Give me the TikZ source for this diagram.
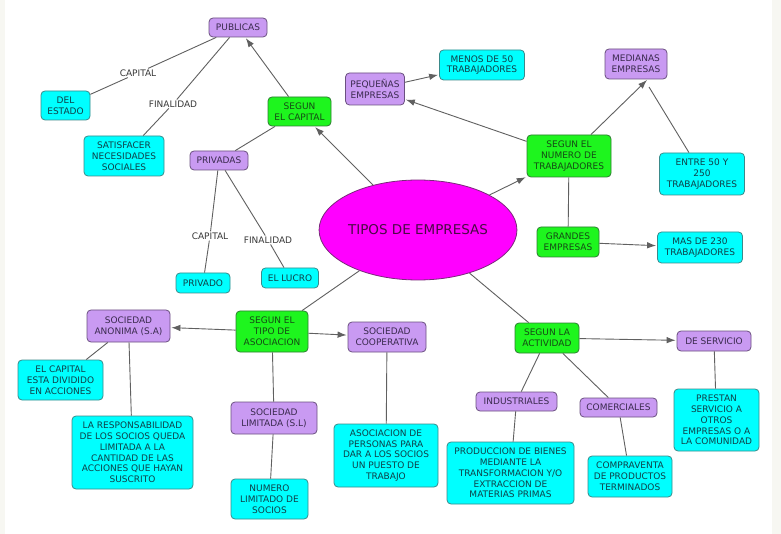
\documentclass[tikz,border=0pt]{standalone}
\usepackage{fontspec}
\setmainfont{DejaVu Sans}
\usetikzlibrary{arrows.meta,shapes.geometric}
\definecolor{cyfill}{HTML}{00FFFF}
\definecolor{cyline}{HTML}{3A8A8A}
\definecolor{cytext}{HTML}{0F4048}
\definecolor{pufill}{HTML}{C99AF2}
\definecolor{puline}{HTML}{6B5080}
\definecolor{putext}{HTML}{3A2A4E}
\definecolor{grfill}{HTML}{1EF51E}
\definecolor{grline}{HTML}{2E7D32}
\definecolor{grtext}{HTML}{154A15}
\definecolor{mgfill}{HTML}{FF00FF}
\definecolor{mgline}{HTML}{7A2A7A}
\definecolor{mgtext}{HTML}{4A0A45}
\definecolor{edge}{HTML}{606060}
\definecolor{strip}{HTML}{F7F7F2}
\tikzset{
  base/.style={rounded corners=4pt, draw, line width=0.8pt, align=center, inner sep=1pt,
    font=\fontsize{9}{10.8}\selectfont},
  cy/.style={base, fill=cyfill, draw=cyline, text=cytext},
  pu/.style={base, fill=pufill, draw=puline, text=putext},
  gr/.style={base, fill=grfill, draw=grline, text=grtext},
  lbl/.style={fill=white, inner sep=1pt, text=black!78, font=\fontsize{9}{10.8}\selectfont},
  ln/.style={draw=edge, line width=0.9pt},
  arr/.style={ln, -{Latex[length=9pt,width=6.5pt]}, shorten >=1pt},
}
\begin{document}
\begin{tikzpicture}[x=1pt,y=-1pt]
\useasboundingbox (0,0) rectangle (781,534);
\fill[white] (0,0) rectangle (781,534);
\fill[strip] (0,0) rectangle (5,534);
\fill[strip] (772,0) rectangle (781,534);

% nodes
\node[pu, minimum width=58pt, minimum height=19pt] (pub) at (238,27.5) {PUBLICAS};
\node[gr, minimum width=63pt, minimum height=29pt] (cap) at (299.5,111.5) {SEGUN\\EL CAPITAL};
\node[cy, minimum width=49pt, minimum height=29pt] (est) at (65.5,105.5) {DEL\\ESTADO};
\node[cy, minimum width=80pt, minimum height=40pt] (sat) at (124,156) {SATISFACER\\NECESIDADES\\SOCIALES};
\node[pu, minimum width=58pt, minimum height=19pt] (priv) at (219,160.5) {PRIVADAS};
\node[cy, minimum width=54pt, minimum height=20pt] (pvo) at (203,283) {PRIVADO};
\node[cy, minimum width=57pt, minimum height=20pt] (luc) at (290,278) {EL LUCRO};
\node[pu, minimum width=59pt, minimum height=32pt] (peq) at (375,89) {PEQUEÑAS\\EMPRESAS};
\node[cy, minimum width=85pt, minimum height=30pt] (men) at (482,65) {MENOS DE 50\\TRABAJADORES};
\node[pu, minimum width=62pt, minimum height=30pt] (med) at (636,64) {MEDIANAS\\EMPRESAS};
\node[gr, minimum width=84pt, minimum height=42pt] (num) at (569,156) {SEGUN EL\\NUMERO DE\\TRABAJADORES};
\node[cy, minimum width=85pt, minimum height=42pt] (ent) at (702,174) {ENTRE 50 Y\\250\\TRABAJADORES};
\node[gr, minimum width=62pt, minimum height=30pt] (gra) at (568,242) {GRANDES\\EMPRESAS};
\node[cy, minimum width=85pt, minimum height=31pt] (mas) at (700,247.5) {MAS DE 230\\TRABAJADORES};
\node[ellipse, draw=mgline, fill=mgfill, line width=0.8pt, text=mgtext, minimum width=182pt, minimum height=100pt, inner sep=0pt, font=\fontsize{13.5}{16}\selectfont] (tip) at (418,230) {TIPOS DE EMPRESAS};
\node[pu, minimum width=83pt, minimum height=32pt] (ano) at (128.5,326) {SOCIEDAD\\ANONIMA (S.A)};
\node[gr, minimum width=72pt, minimum height=41pt] (aso) at (272,331.5) {SEGUN EL\\TIPO DE\\ASOCIACION};
\node[pu, minimum width=78pt, minimum height=30pt] (coo) at (387,337) {SOCIEDAD\\COOPERATIVA};
\node[gr, minimum width=64pt, minimum height=30pt] (act) at (547,338) {SEGUN LA\\ACTIVIDAD};
\node[pu, minimum width=74pt, minimum height=20pt] (ser) at (714,341) {DE SERVICIO};
\node[cy, minimum width=85pt, minimum height=40pt] (eca) at (60.5,380) {EL CAPITAL\\ESTA DIVIDIDO\\EN ACCIONES};
\node[cy, minimum width=121pt, minimum height=73pt] (res) at (132.5,452.5) {LA RESPONSABILIDAD\\DE LOS SOCIOS QUEDA\\LIMITADA A LA\\CANTIDAD DE LAS\\ACCIONES QUE HAYAN\\SUSCRITO};
\node[pu, minimum width=86pt, minimum height=32pt] (lim) at (274,418) {SOCIEDAD\\LIMITADA (S.L)};
\node[cy, minimum width=77pt, minimum height=40pt] (nls) at (269.5,499) {NUMERO\\LIMITADO DE\\SOCIOS};
\node[cy, minimum width=104pt, minimum height=63pt] (apa) at (386,455.5) {ASOCIACION DE\\PERSONAS PARA\\DAR A LOS SOCIOS\\UN PUESTO DE\\TRABAJO};
\node[pu, minimum width=81pt, minimum height=19pt] (ind) at (516.5,401.5) {INDUSTRIALES};
\node[pu, minimum width=77pt, minimum height=19pt] (com) at (618.5,407.5) {COMERCIALES};
\node[cy, minimum width=127pt, minimum height=62pt] (pro) at (510.5,473) {PRODUCCION DE BIENES\\MEDIANTE LA\\TRANSFORMACION Y/O\\EXTRACCION DE\\MATERIAS PRIMAS};
\node[cy, minimum width=84pt, minimum height=41pt] (cpv) at (630,476.5) {COMPRAVENTA\\DE PRODUCTOS\\TERMINADOS};
\node[cy, minimum width=85pt, minimum height=62pt] (pre) at (716.5,420) {PRESTAN\\SERVICIO A\\OTROS\\EMPRESAS O A\\LA COMUNIDAD};

% link labels
\node[lbl] (l1) at (138,73) {CAPITAL};
\node[lbl] (l2) at (173,104) {FINALIDAD};
\node[lbl] (l3) at (210,236) {CAPITAL};
\node[lbl] (l4) at (268,240) {FINALIDAD};

\coordinate (mj) at (647,80);
\coordinate (mj2) at (649,87);

% connectors
\draw[arr] (tip) -- (cap);
\draw[arr] (cap) -- (pub);
\draw[ln] (cap) -- (priv);
\draw[ln] (pub) -- (l1);
\draw[ln] (l1) -- (est);
\draw[ln] (pub) -- (l2);
\draw[ln] (l2) -- (sat);
\draw[ln] (priv) -- (l3);
\draw[ln] (l3) -- (pvo);
\draw[ln] (priv) -- (l4);
\draw[ln] (l4) -- (luc);
\draw[arr] (tip) -- (num);
\draw[arr] (num) -- (peq);
\draw[arr] (peq) -- (men);
\draw[ln] (ent) -- (mj2);
\draw[arr, shorten >=0pt] (num) -- (mj);
\draw[ln] (num) -- (gra);
\draw[arr] (gra) -- (mas);
\draw[ln] (tip) -- (aso);
\draw[arr] (aso) -- (ano);
\draw[arr] (aso) -- (coo);
\draw[ln] (aso) -- (lim);
\draw[ln] (ano) -- (eca);
\draw[ln] (ano) -- (res);
\draw[ln] (lim) -- (nls);
\draw[ln] (coo) -- (apa);
\draw[ln] (tip) -- (act);
\draw[arr] (act) -- (ser);
\draw[ln] (act) -- (ind);
\draw[ln] (act) -- (com);
\draw[ln] (ind) -- (pro);
\draw[ln] (com) -- (cpv);
\draw[ln] (ser) -- (pre);
\end{tikzpicture}
\end{document}
